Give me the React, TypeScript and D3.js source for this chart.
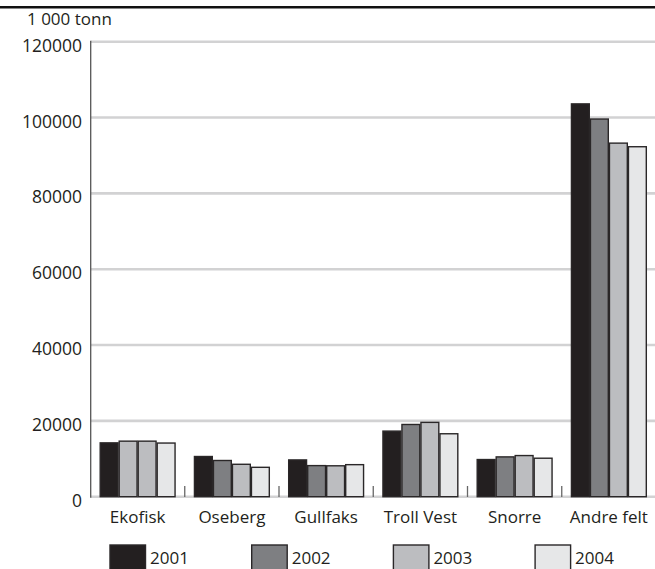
import React from "react";
import * as d3 from "d3";

const categories = ["Ekofisk", "Oseberg", "Gullfaks", "Troll Vest", "Snorre", "Andre felt"];
const years = ["2001", "2002", "2003", "2004"];
const v2001 = [14200, 10600, 9700, 17300, 9800, 103600];
const v2002 = [14650, 9550, 8200, 19050, 10500, 99600];
const v2003 = [14650, 8550, 8150, 19600, 10850, 93250];
const v2004 = [14150, 7750, 8450, 16600, 10150, 92300];
const yTicks = [0, 20000, 40000, 60000, 80000, 100000, 120000];
const unitLabel = "1 000 tonn";

const series = [v2001, v2002, v2003, v2004];
const colors = ["#231f20", "#7e7f82", "#bcbdc0", "#e6e7e8"];
// the reference draws Ekofisk 2002 in the 2003 shade
const fillOverride: Record<string, string> = { "0-1": "#bcbdc0" };

const W = 655, H = 569;
const FONT = "'Open Sans', sans-serif";

export default function App() {
  const x = d3.scaleBand<string>().domain(categories).range([90.5, 656]).padding(0);
  const xi = d3.scaleBand<string>().domain(years).range([0, x.bandwidth()]).paddingOuter(0.51).paddingInner(0.06);
  const y = d3.scaleLinear().domain([0, 120000]).range([496.7, 41.7]);

  return (
    <svg width={W} height={H} style={{ position: "absolute", left: 0, top: 0, background: "#fff" }} fontFamily={FONT}>
      <line x1={0} x2={W} y1={7.3} y2={7.3} stroke="#111" strokeWidth={2.6} />
      <text x={27} y={25} fontSize={17} fill="#231f20">{unitLabel}</text>
      {yTicks.map((t) => (
        <g key={t}>
          <line x1={91} x2={W} y1={y(t)} y2={y(t)} stroke="#d2d2d3" strokeWidth={2.6} />
          <text x={82} y={y(t) + 10} fontSize={17.5} textAnchor="end" fill="#231f20">{t}</text>
        </g>
      ))}
      <line x1={90.7} x2={90.7} y1={y(120000) - 1} y2={y(0) + 1} stroke="#555" strokeWidth={1.3} />
      {categories.slice(1).map((c) => (
        <line key={c} x1={x(c)!} x2={x(c)!} y1={486} y2={497} stroke="#666" strokeWidth={1.3} />
      ))}
      {categories.map((c, ci) => (
        <g key={c} transform={`translate(${x(c)},0)`}>
          {years.map((yr, si) => {
            const v = series[si][ci];
            const fill = fillOverride[`${ci}-${si}`] ?? colors[si];
            return (
              <rect
                key={yr}
                x={xi(yr)!}
                y={y(v)}
                width={xi.bandwidth()}
                height={y(0) - y(v)}
                fill={fill}
                stroke="#2a2728"
                strokeWidth={1.4}
              />
            );
          })}
          <text x={x.bandwidth() / 2} y={523} fontSize={17} textAnchor="middle" fill="#231f20">{c}</text>
        </g>
      ))}
      {years.map((yr, i) => (
        <g key={yr} transform={`translate(${110 + i * 141.7},545)`}>
          <rect x={0} y={0} width={35.5} height={30} fill={colors[i]} stroke="#2a2728" strokeWidth={1.4} />
          <text x={40} y={19} fontSize={17} fill="#231f20">{yr}</text>
        </g>
      ))}
    </svg>
  );
}
